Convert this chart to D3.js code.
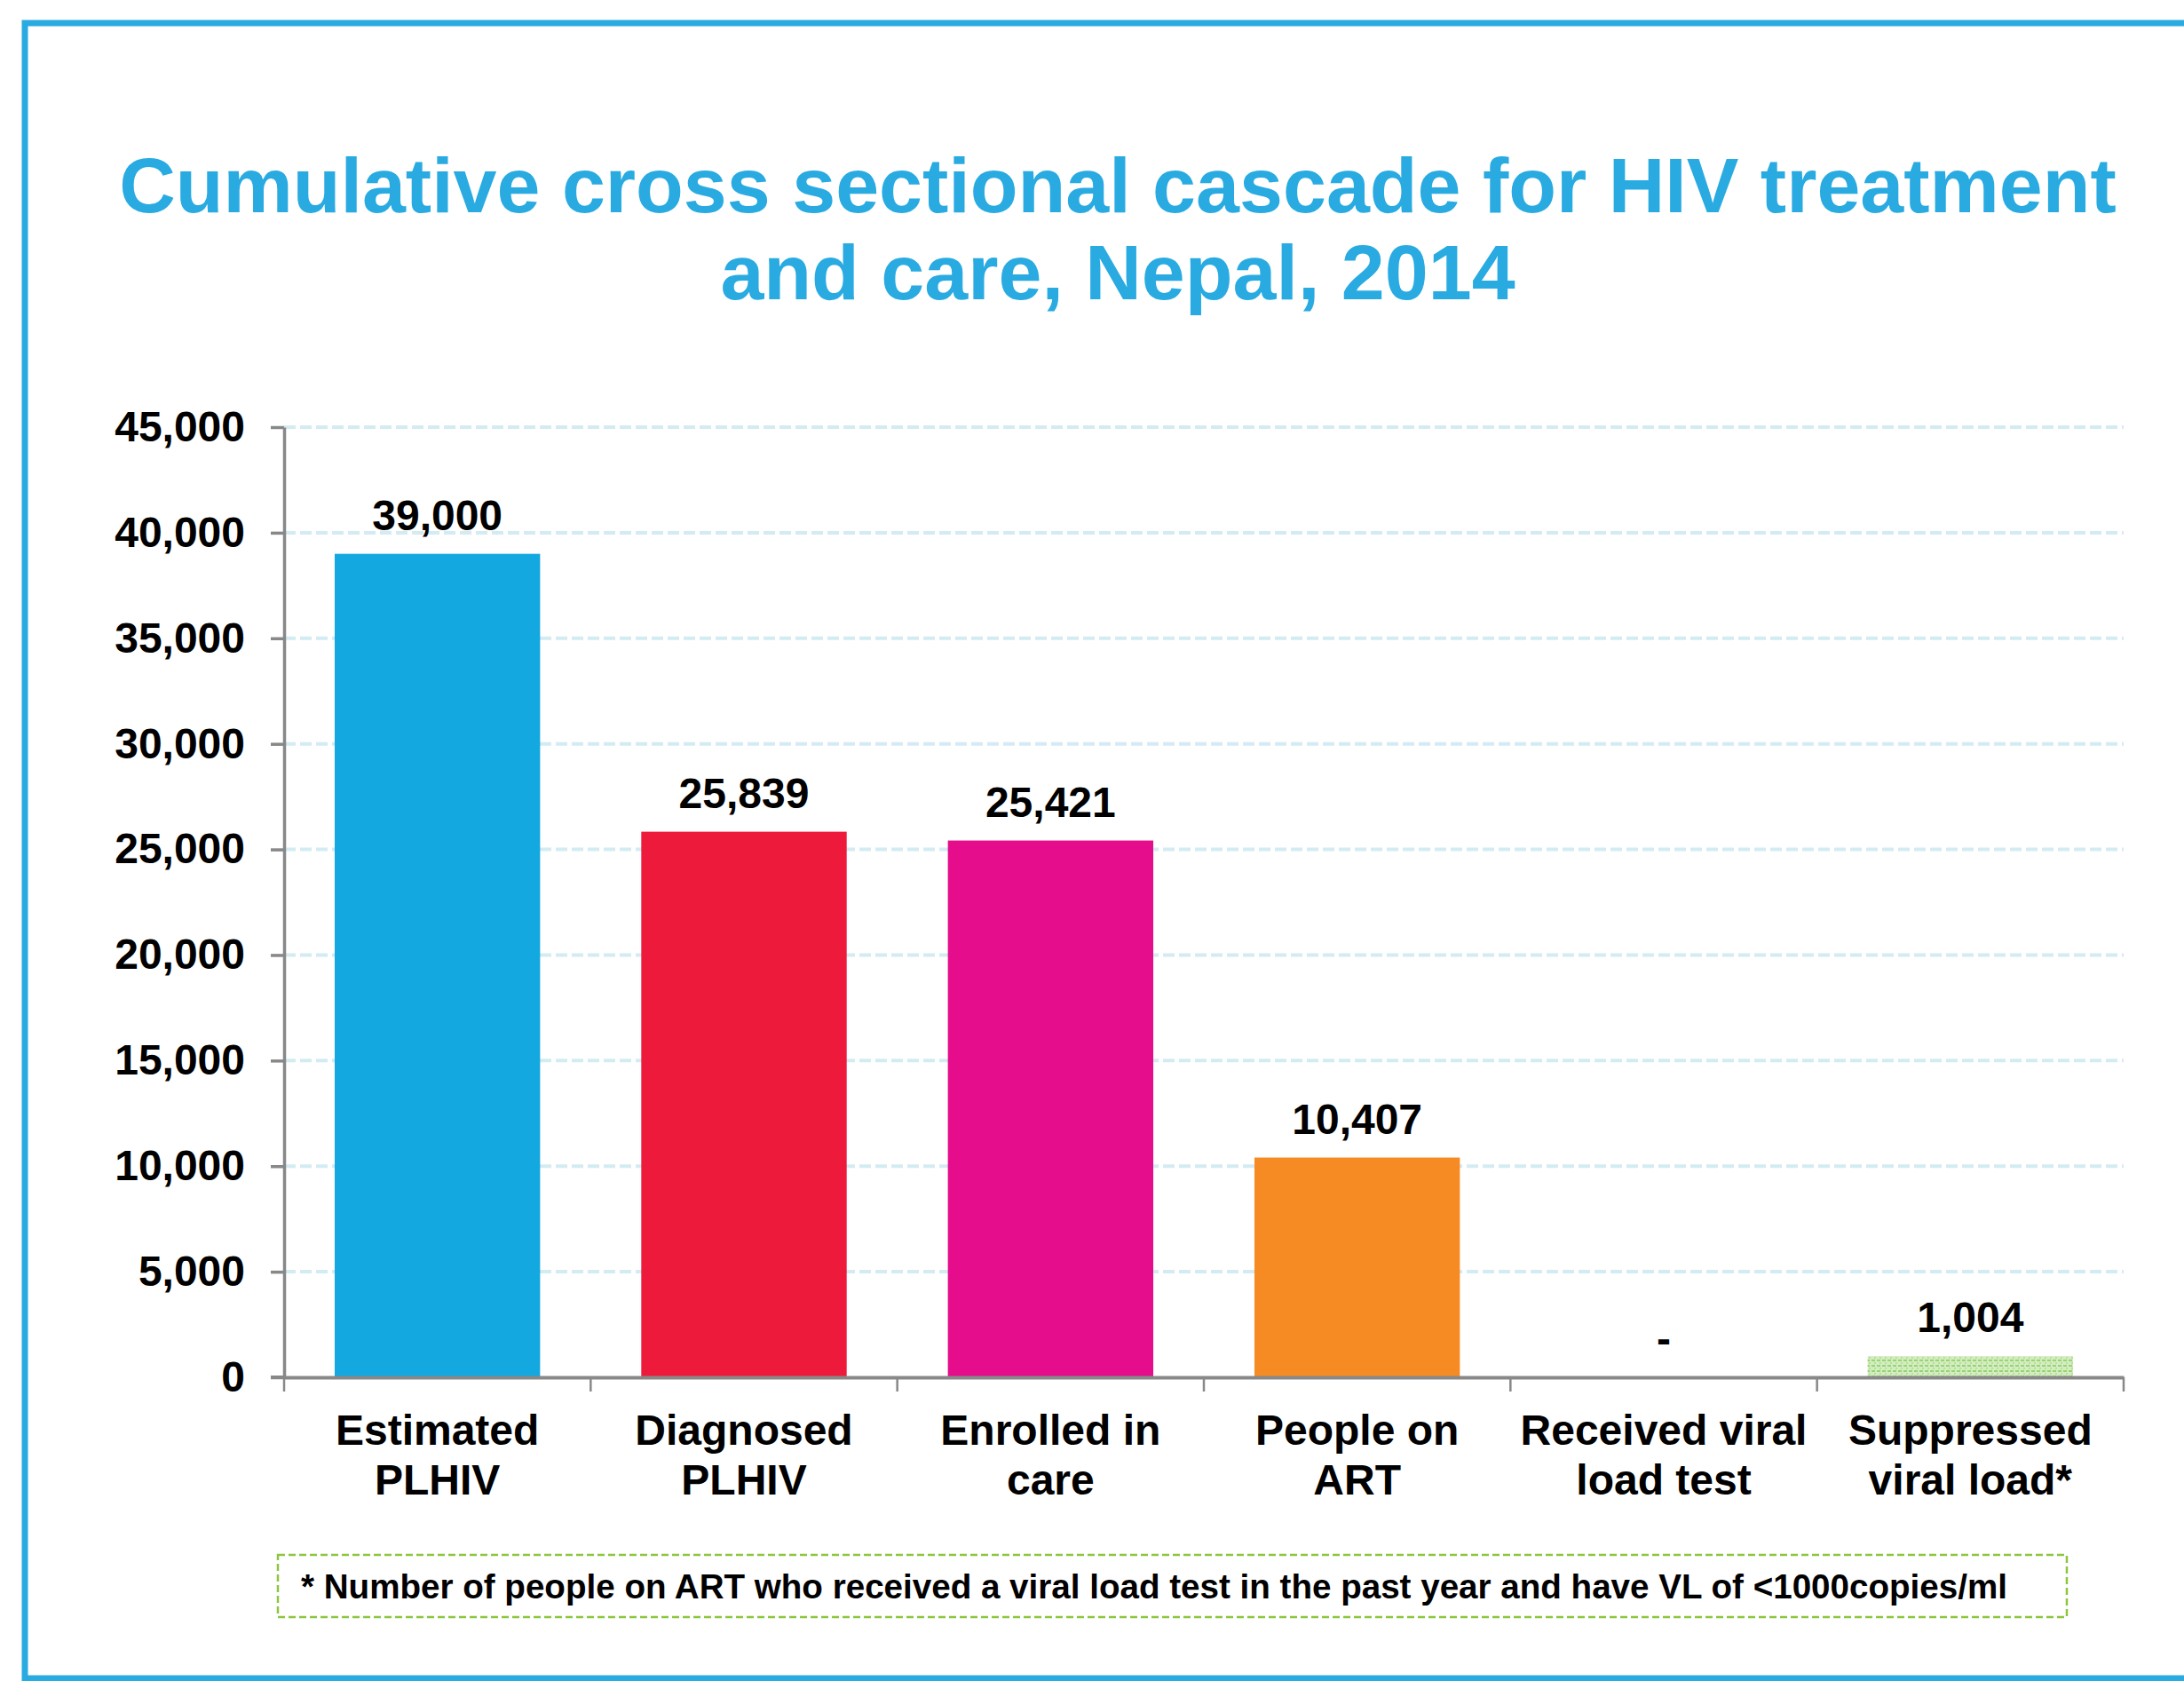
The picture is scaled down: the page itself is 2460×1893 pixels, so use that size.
<!DOCTYPE html>
<html>
<head>
<meta charset="utf-8">
<script src="https://cdn.jsdelivr.net/npm/d3@7"></script>
<style>
  body { margin: 0; background: #fff; }
  svg { display: block; }
  text { font-family: "Liberation Sans", Arial, sans-serif; font-weight: bold; }
</style>
</head>
<body>
<svg id="chart"></svg>
<script>
// data
const categories = ["Estimated PLHIV", "Diagnosed PLHIV", "Enrolled in care", "People on ART", "Received viral load test", "Suppressed viral load*"];
const labelLines = [["Estimated", "PLHIV"], ["Diagnosed", "PLHIV"], ["Enrolled in", "care"], ["People on", "ART"], ["Received viral", "load test"], ["Suppressed", "viral load*"]];
const values = [39000, 25839, 25421, 10407, null, 1004];
const barColors = ["#13a8e0", "#ee1a3b", "#e50d8c", "#f68b24", "none", "url(#greenDots)"];
const yTicks = [0, 5000, 10000, 15000, 20000, 25000, 30000, 35000, 40000, 45000];
const titleLines = ["Cumulative cross sectional cascade for HIV treatment", "and care, Nepal, 2014"];
const footnote = "* Number of people on ART who received a viral load test in the past year and have VL of <1000copies/ml";

const width = 2460, height = 1893;
const margin = { top: 481, right: 68, bottom: 342, left: 320 };
const innerW = width - margin.left - margin.right;
const innerH = height - margin.top - margin.bottom;

const svg = d3.select("#chart").attr("width", width).attr("height", height);

// hatched green fill for the last bar
const defs = svg.append("defs");
const pat = defs.append("pattern")
    .attr("id", "greenDots")
    .attr("patternUnits", "userSpaceOnUse")
    .attr("width", 6).attr("height", 6);
pat.append("rect").attr("width", 6).attr("height", 6).attr("fill", "#d3edc0");
pat.append("rect").attr("width", 4).attr("height", 2).attr("fill", "#98d374");
pat.append("rect").attr("x", 3).attr("y", 3).attr("width", 2).attr("height", 2).attr("fill", "#b5e09a");

// frame
svg.append("path")
    .attr("d", `M${width + 10},26 H28 V1890 H${width + 10}`)
    .attr("fill", "none")
    .attr("stroke", "#29abe2")
    .attr("stroke-width", 7);

// title
svg.append("text")
    .attr("x", 1259)
    .attr("text-anchor", "middle")
    .attr("fill", "#29abe2")
    .attr("font-size", 88)
    .selectAll("tspan")
    .data(titleLines)
    .join("tspan")
    .attr("x", 1259)
    .attr("y", (d, i) => 239 + i * 98)
    .text(d => d);

const g = svg.append("g").attr("transform", `translate(${margin.left},${margin.top})`);

const x = d3.scaleBand().domain(categories).range([0, innerW]).paddingInner(0.33).paddingOuter(0.165);
const y = d3.scaleLinear().domain([0, 45000]).range([innerH, 0]);

// gridlines
g.append("g")
    .selectAll("line")
    .data(yTicks.filter(d => d > 0))
    .join("line")
    .attr("x1", 0).attr("x2", innerW)
    .attr("y1", d => y(d)).attr("y2", d => y(d))
    .attr("stroke", "#d3ebf3")
    .attr("stroke-width", 4)
    .attr("stroke-dasharray", "13,5");

// bars
g.append("g")
    .selectAll("rect")
    .data(categories)
    .join("rect")
    .attr("x", d => x(d))
    .attr("width", x.bandwidth())
    .attr("y", (d, i) => y(values[i] || 0))
    .attr("height", (d, i) => innerH - y(values[i] || 0))
    .attr("fill", (d, i) => barColors[i]);

// value labels
const fmt = d3.format(",");
g.append("g")
    .selectAll("text")
    .data(categories)
    .join("text")
    .attr("x", d => x(d) + x.bandwidth() / 2)
    .attr("y", (d, i) => y(values[i] || 0) - 27)
    .attr("text-anchor", "middle")
    .attr("font-size", 48)
    .attr("fill", "#000")
    .text((d, i) => values[i] == null ? "-" : fmt(values[i]));

// y axis
const yAxis = g.append("g")
    .call(d3.axisLeft(y).tickValues(yTicks).tickFormat(fmt).tickSize(15).tickSizeOuter(0).tickPadding(29));
yAxis.select(".domain").attr("stroke", "#888").attr("stroke-width", 3.5);
yAxis.selectAll(".tick line").attr("stroke", "#888").attr("stroke-width", 3.5);
yAxis.selectAll(".tick text")
    .attr("font-size", 48)
    .attr("font-family", "Liberation Sans, Arial, sans-serif")
    .attr("font-weight", "bold")
    .attr("fill", "#000");

// x axis
const xAxis = g.append("g")
    .attr("transform", `translate(0,${innerH})`)
    .call(d3.axisBottom(x).tickSize(0).tickSizeOuter(0).tickPadding(0));
xAxis.select(".domain").attr("stroke", "#888").attr("stroke-width", 4);
xAxis.selectAll(".tick text").each(function (d, i) {
    const t = d3.select(this);
    t.text(null)
        .attr("y", 0)
        .attr("dy", null)
        .attr("font-size", 48)
        .attr("font-family", "Liberation Sans, Arial, sans-serif")
        .attr("font-weight", "bold")
        .attr("fill", "#000");
    t.selectAll("tspan")
        .data(labelLines[i])
        .join("tspan")
        .attr("x", 0)
        .attr("y", (l, j) => 76 + j * 56)
        .text(l => l);
});
// boundary ticks between categories
const bounds = categories.map(d => x(d) - x.step() * x.paddingInner() / 2).concat([innerW]);
xAxis.append("g")
    .selectAll("line")
    .data(bounds)
    .join("line")
    .attr("x1", d => d).attr("x2", d => d)
    .attr("y1", 0).attr("y2", 16)
    .attr("stroke", "#888")
    .attr("stroke-width", 2.5);
// baseline extends to the left of the y axis
xAxis.append("line")
    .attr("x1", -15).attr("x2", 0)
    .attr("stroke", "#888").attr("stroke-width", 4);

// footnote box
svg.append("rect")
    .attr("x", 313).attr("y", 1751)
    .attr("width", 2015).attr("height", 70)
    .attr("fill", "none")
    .attr("stroke", "#8cc63f")
    .attr("stroke-width", 2.5)
    .attr("stroke-dasharray", "8,4");
svg.append("text")
    .attr("x", 339).attr("y", 1800)
    .attr("font-size", 38.6)
    .attr("fill", "#000")
    .text(footnote);
</script>
</body>
</html>
